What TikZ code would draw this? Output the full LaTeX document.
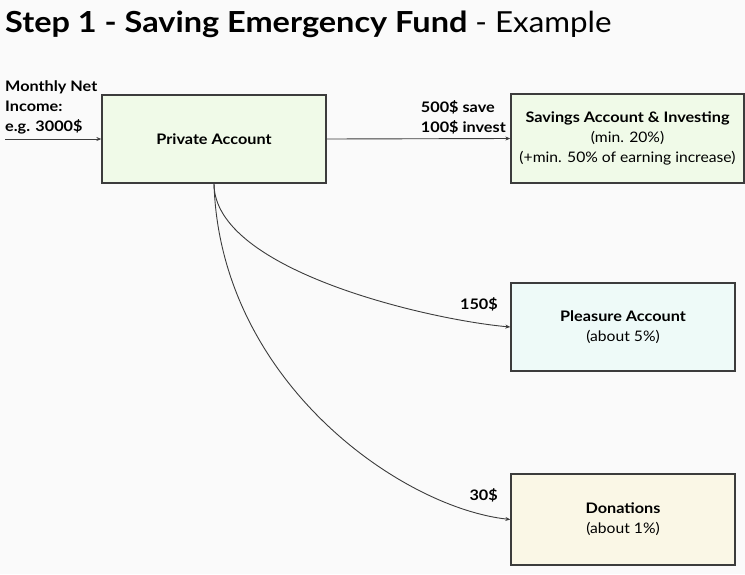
\documentclass[tikz,border=0pt]{standalone}
\usepackage{fontspec}
\setmainfont[FakeStretch=1.08, BoldFeatures={FakeStretch=1.12}]{Lato}
\usetikzlibrary{positioning,arrows.meta}

\definecolor{bgcol}{RGB}{250,250,250}
\definecolor{linecol}{RGB}{60,60,60}
\definecolor{greenfill}{RGB}{240,250,232}
\definecolor{cyanfill}{RGB}{238,250,248}
\definecolor{yellowfill}{RGB}{250,247,230}

\begin{document}
\begin{tikzpicture}[
    x=1pt, y=-1pt,
    account/.style={rectangle, draw=linecol, line width=1.3pt, minimum width=224pt, minimum height=88pt, align=center, font=\fontsize{14.5}{20}\selectfont},
    arrow/.style={-{Stealth[length=5pt,width=4pt]}, line width=0.9pt, draw=linecol},
    amount/.style={font=\fontsize{14.5}{20}\selectfont\bfseries, align=left, inner sep=0pt},
]

% Canvas
\fill[bgcol] (0,0) rectangle (745,574);
\useasboundingbox (0,0) rectangle (745,574);

% Title
\node[anchor=base west, inner sep=0pt, font=\fontsize{29}{34}\selectfont] (title) at (5,32)
    {\textbf{Step 1 - Saving Emergency Fund} - Example};

% Accounts
\node[account, fill=greenfill] (priv) at (214,139) {\textbf{Private Account}};
\node[account, fill=greenfill, minimum width=233pt, minimum height=89pt] (save) at (627.5,138.5)
    {\textbf{Savings Account \& Investing}\\(min. 20\%)\\(+min. 50\% of earning increase)};
\node[account, fill=cyanfill] (pleas) at (623,327) {\textbf{Pleasure Account}\\(about 5\%)};
\node[account, fill=yellowfill, minimum height=91pt] (don) at (623,519.5) {\textbf{Donations}\\(about 1\%)};

% Income
\coordinate (inc) at (5,139);
\node[amount, anchor=south west] (inclabel) at (5,134) {Monthly Net\\Income:\\e.g. 3000\$};
\draw[arrow] (inc) -- (priv.west);

% Flows
\draw[arrow] (priv.east) -- (save.west);
\node[amount, anchor=south east] (savelabel) at (506,134) {500\$ save\\100\$ invest};

\draw[arrow] (priv.south) .. controls +(0,87) and +(-80,-7) .. (pleas.west);
\node[amount, anchor=base east] (pleaslabel) at (498,309) {150\$};

\draw[arrow] (priv.south) .. controls +(6,197) and +(-110,-12) .. (don.west);
\node[amount, anchor=base east] (donlabel) at (498,500) {30\$};

\end{tikzpicture}
\end{document}
